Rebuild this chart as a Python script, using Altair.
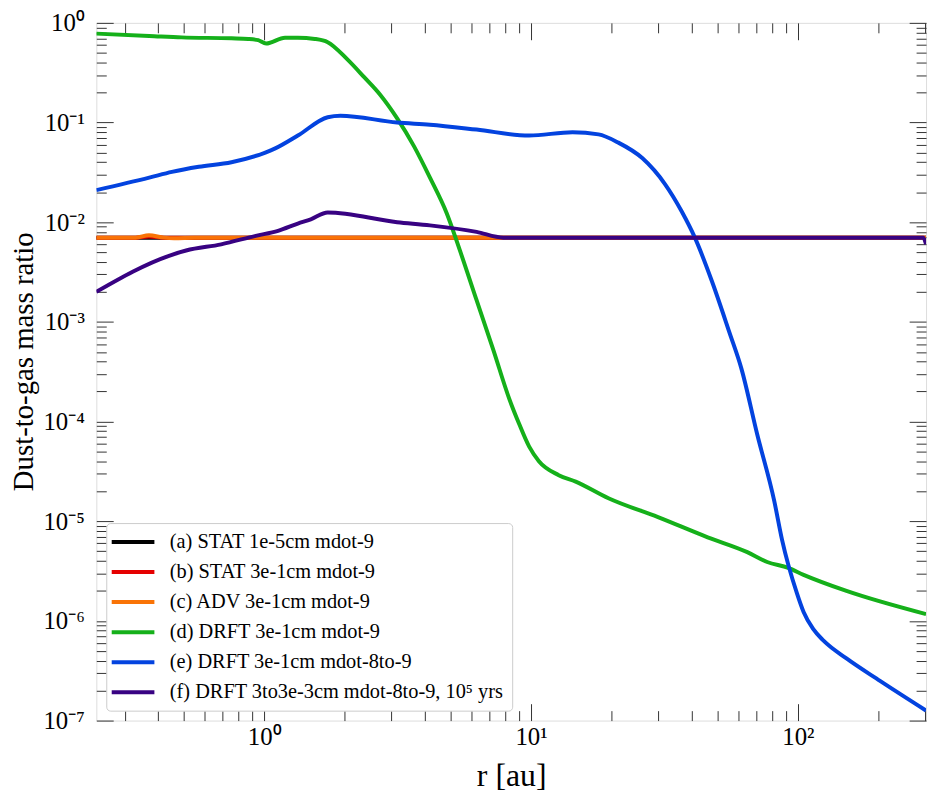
import altair as alt
import pandas as pd

labels = [
    "(a) STAT 1e-5cm mdot-9",
    "(b) STAT 3e-1cm mdot-9",
    "(c) ADV 3e-1cm mdot-9",
    "(d) DRFT 3e-1cm mdot-9",
    "(e) DRFT 3e-1cm mdot-8to-9",
    "(f) DRFT 3to3e-3cm mdot-8to-9, 10\u2075 yrs",
]
colors = ["#000000", "#e50000", "#f97306", "#15b01a", "#0343df", "#380282"]

r_a = [0.235, 1.0, 10.0, 100.0, 302.0]
v_a = [0.007, 0.007, 0.007, 0.007, 0.007]

r_b = [0.235, 0.33, 0.37, 0.42, 0.6, 1.0, 10.0, 100.0, 302.0]
v_b = [0.007, 0.007, 0.0072, 0.007, 0.007, 0.007, 0.007, 0.007, 0.007]

r_c = [0.235, 0.33, 0.37, 0.42, 0.46, 0.55, 1.0, 10.0, 100.0, 302.0]
v_c = [0.007, 0.007, 0.0074, 0.007, 0.0069, 0.007, 0.007, 0.007, 0.007, 0.007]

r_d = [0.235, 0.371, 0.491, 0.754, 0.872, 0.95, 1.017, 1.197, 1.337, 1.548, 1.73,
       2.05, 2.37, 2.72, 3.15, 3.64, 4.18, 4.83, 5.40, 6.25, 7.21, 8.28, 9.02,
       9.84, 10.7, 12.7, 14.7, 19.5, 29.9, 45.9, 64.6, 76.7, 92, 105, 152, 302]
v_d = [0.78, 0.74, 0.715, 0.70, 0.69, 0.67, 0.62, 0.71, 0.71, 0.69, 0.64,
       0.43, 0.285, 0.19, 0.11, 0.058, 0.028, 0.0123, 0.0053, 1.65e-3, 5.3e-4,
       1.7e-4, 9.5e-5, 5.6e-5, 4.0e-5, 2.9e-5, 2.5e-5, 1.7e-5, 1.1e-5,
       6.9e-6, 4.9e-6, 3.9e-6, 3.4e-6, 2.9e-6, 2.0e-6, 1.17e-6]

r_e = [0.235, 0.371, 0.451, 0.569, 0.754, 1.01, 1.10, 1.337, 1.73, 1.93,
       3.15, 4.18, 6.25, 9.84, 14.3, 17.9, 21.2, 26.1, 31.8, 36.7, 41.1, 47.5,
       55.4, 61.4, 70.4, 81.5, 87.2, 99.1, 105, 114, 125, 152, 203, 302]
v_e = [0.021, 0.028, 0.032, 0.036, 0.040, 0.050, 0.055, 0.074, 0.113, 0.117,
       0.10, 0.095, 0.085, 0.074, 0.080, 0.076, 0.063, 0.044, 0.024, 0.0128, 0.007,
       0.0026, 7.8e-4, 3.4e-4, 7.4e-5, 1.6e-5, 6.5e-6, 1.9e-6, 1.23e-6, 8.3e-7,
       6.3e-7, 4.2e-7, 2.5e-7, 1.26e-7]

r_f = [0.235, 0.44, 0.51, 0.69, 0.93, 1.127, 1.337, 1.495, 1.73, 3.15, 4.18,
       6.25, 7.87, 20.0, 100.0, 295.0, 302.0]
v_f = [0.002, 0.0046, 0.0052, 0.006, 0.0073, 0.0082, 0.0097, 0.0107, 0.0125,
       0.010, 0.0093, 0.008, 0.007, 0.007, 0.007, 0.007, 0.006]

x_major = [1, 10, 100]
x_minor = [0.3, 0.4, 0.5, 0.6, 0.7, 0.8, 0.9, 2, 3, 4, 5, 6, 7, 8, 9,
           20, 30, 40, 50, 60, 70, 80, 90, 200, 300]
y_major = [1e-7, 1e-6, 1e-5, 1e-4, 1e-3, 1e-2, 1e-1, 1]
y_minor = [m * 10.0 ** k for k in range(-7, 0) for m in range(2, 10)]

series = [(r_a, v_a), (r_b, v_b), (r_c, v_c), (r_d, v_d), (r_e, v_e), (r_f, v_f)]
rows = []
for i, (lab, (rs, vs)) in enumerate(zip(labels, series)):
    for r, v in zip(rs, vs):
        rows.append({"series": lab, "k": i, "r": r, "ratio": v})
df = pd.DataFrame(rows)

SERIF = "Liberation Serif"
E = "round(log(datum.value)/LN10)"
IS_MAJOR = f"abs(log(datum.value)/LN10 - {E}) < 1e-6"
SUP = "['\u2070','\u00b9','\u00b2','\u00b3','\u2074','\u2075','\u2076','\u2077','\u2078','\u2079']"
LABEL_EXPR = f"({IS_MAJOR}) ? '10' + ({E} < 0 ? '\u207b' : '') + {SUP}[abs({E})] : ''"
TICK = {"condition": {"test": IS_MAJOR, "value": -17}, "value": -10}

x_ticks = sorted(x_major + x_minor)
y_ticks = sorted(y_major + y_minor)

common = dict(domain=False, grid=False, tickColor="#333333", tickWidth=1,
              tickSize=TICK, labelOverlap=False, labelFlush=False, labelBound=False)

x_bottom = alt.Axis(values=x_ticks, orient="bottom", labelExpr=LABEL_EXPR,
                    labelFont=SERIF, labelFontSize=25, labelColor="black",
                    labelPadding=21, title="r [au]", titleFont=SERIF,
                    titleFontSize=32, titleFontWeight="normal", titleColor="black",
                    titlePadding=4, **common)
y_left = alt.Axis(values=y_ticks, orient="left", labelExpr=LABEL_EXPR,
                  labelFont=SERIF, labelFontSize=25, labelColor="black",
                  labelPadding=29, title="Dust-to-gas mass ratio", titleFont=SERIF,
                  titleFontSize=29, titleFontWeight="normal", titleColor="black",
                  titleX=-58, titleY=341, **common)
x_top = alt.Axis(values=x_ticks, orient="top", labels=False, title=None, **common)
y_right = alt.Axis(values=y_ticks, orient="right", labels=False, title=None, **common)

xs = alt.Scale(type="log", domain=[0.235, 302], nice=False)
ys = alt.Scale(type="log", domain=[1e-7, 1], nice=False)

lines = alt.Chart(df).mark_line(strokeWidth=4, interpolate="monotone", clip=True).encode(
    x=alt.X("r:Q", scale=xs, axis=x_bottom),
    y=alt.Y("ratio:Q", scale=ys, axis=y_left),
    color=alt.Color("series:N", scale=alt.Scale(domain=labels, range=colors),
                    sort=labels,
                    legend=alt.Legend(title=None, orient="bottom-left", offset=10,
                                      symbolType="M-2.5,0H2.5", symbolSize=296,
                                      symbolStrokeWidth=4, symbolOffset=8,
                                      labelFont=SERIF, labelFontSize=20.5,
                                      labelColor="black", labelLimit=600,
                                      labelOffset=26, rowPadding=8.3,
                                      padding=8, strokeColor="#cccccc",
                                      fillColor="white", cornerRadius=4)),
    order=alt.Order("r:Q"),
)

frame = alt.Chart(df).mark_line(opacity=0).encode(
    x=alt.X("r:Q", scale=xs, axis=x_top),
    y=alt.Y("ratio:Q", scale=ys, axis=y_right),
    detail="series:N",
)

chart = alt.layer(lines, frame).resolve_axis(x="independent", y="independent").properties(
    width=836, height=703,
    padding={"left": 89, "top": 12, "right": 5, "bottom": 70},
    autosize=alt.AutoSizeParams(type="none"),
).configure_view(stroke="#222222", strokeWidth=1.3).configure(background="white")

chart.save("out.html", embed_options={"renderer": "svg", "actions": False})
